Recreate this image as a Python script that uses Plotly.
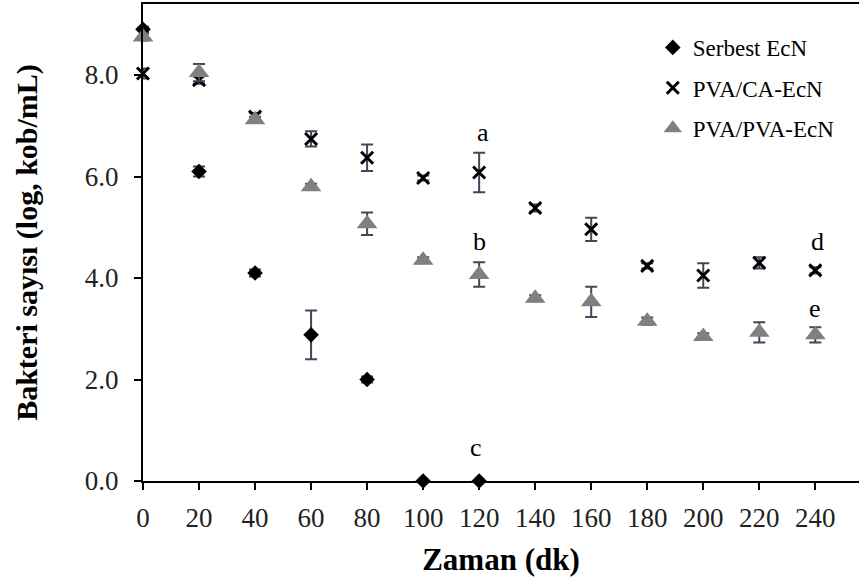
import plotly.graph_objects as go

# Sampling times (minutes)
time_free = [0, 20, 40, 60, 80, 100, 120]
time_fiber = [0, 20, 40, 60, 80, 100, 120, 140, 160, 180, 200, 220, 240]

# Viable counts, log(cfu/mL), with standard deviations
free_ecn = [8.9, 6.1, 4.1, 2.88, 2.0, 0.0, 0.0]
free_ecn_sd = [0.05, 0.1, 0.07, 0.48, 0.06, 0.0, 0.0]

pva_ca_ecn = [8.03, 7.9, 7.18, 6.74, 6.37, 5.97, 6.08, 5.38, 4.96, 4.24, 4.05, 4.3, 4.15]
pva_ca_ecn_sd = [0.1, 0.07, 0.07, 0.15, 0.26, 0.05, 0.39, 0.07, 0.23, 0.05, 0.24, 0.11, 0.06]

pva_pva_ecn = [8.75, 8.05, 7.12, 5.8, 5.07, 4.35, 4.07, 3.6, 3.53, 3.15, 2.85, 2.93, 2.88]
pva_pva_ecn_sd = [0.07, 0.17, 0.06, 0.06, 0.22, 0.06, 0.24, 0.06, 0.3, 0.07, 0.06, 0.2, 0.15]

# Significance letters: (x, y, text)
letters_x = [121.5, 120, 119, 240.7, 240]
letters_y = [6.86, 4.72, 0.66, 4.72, 3.39]
letters_txt = ["a", "b", "c", "d", "e"]

SERIF = "Liberation Serif, Times New Roman, serif"
ERR_COLOR = "#3e4859"

def err(sd):
    return dict(type="data", array=sd, visible=True, color=ERR_COLOR,
                thickness=2, width=6)

fig = go.Figure()
fig.add_trace(go.Scatter(
    x=time_free, y=free_ecn, name="Serbest EcN", mode="markers",
    marker=dict(symbol="diamond", size=12, color="black"),
    error_y=err(free_ecn_sd), cliponaxis=False, legendgroup="g1"))
fig.add_trace(go.Scatter(
    x=time_fiber, y=pva_ca_ecn, name="PVA/CA-EcN", mode="markers",
    marker=dict(symbol="x-thin", size=12, color="black",
                line=dict(width=3, color="black")),
    error_y=err(pva_ca_ecn_sd), cliponaxis=False, legendgroup="g2"))
fig.add_trace(go.Scatter(
    x=time_fiber, y=pva_pva_ecn, name="PVA/PVA-EcN", mode="markers",
    marker=dict(symbol="triangle-up", size=18, color="#808080"),
    error_y=err(pva_pva_ecn_sd), cliponaxis=False, legendgroup="g3"))

for lx, ly, lt in zip(letters_x, letters_y, letters_txt):
    fig.add_annotation(x=lx, y=ly, text=lt, showarrow=False,
                       font=dict(family=SERIF, size=26, color="black"),
                       xanchor="center", yanchor="middle")

fig.update_layout(
    width=859, height=587,
    margin=dict(l=143, r=0, t=4, b=106),
    paper_bgcolor="white", plot_bgcolor="white",
    font=dict(family=SERIF, color="black"),
    showlegend=True,
    legend=dict(x=0.712, y=0.954, xanchor="left", yanchor="top",
                font=dict(family=SERIF, size=23, color="black"),
                bgcolor="rgba(0,0,0,0)", tracegroupgap=7.5,
                traceorder="grouped"),
)

fig.update_xaxes(
    range=[0, 255.6], tickvals=list(range(0, 241, 20)),
    showline=True, linewidth=2, linecolor="black", mirror=True,
    ticks="outside", ticklen=7, tickwidth=2, tickcolor="black",
    ticklabelstandoff=5,
    showgrid=False, zeroline=False,
    tickfont=dict(family=SERIF, size=27, color="#222"),
    title=dict(text="<b>Zaman (dk)</b>", font=dict(family=SERIF, size=31, color="black"),
               standoff=16),
)
fig.update_yaxes(
    range=[0, 9.4], tickvals=[0, 2, 4, 6, 8],
    ticktext=["0.0", "2.0", "4.0", "6.0", "8.0"],
    showline=True, linewidth=2, linecolor="black",
    ticks="outside", ticklen=7, tickwidth=2, tickcolor="black",
    ticklabelstandoff=10,
    showgrid=False, zeroline=False,
    tickfont=dict(family=SERIF, size=27, color="#222"),
    title=dict(text="<b>Bakteri sayısı (log, kob/mL)</b>",
               font=dict(family=SERIF, size=30, color="black"), standoff=38),
)

fig.write_html("out.html")
